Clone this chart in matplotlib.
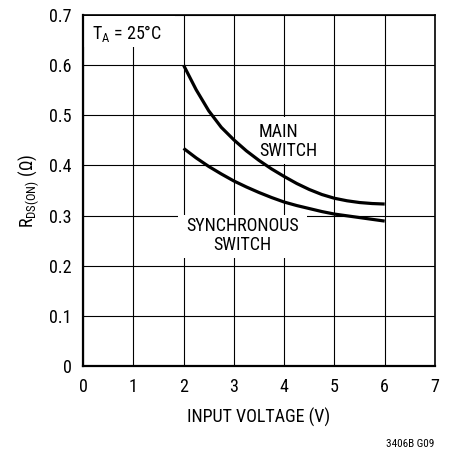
import matplotlib
matplotlib.use("Agg")
from matplotlib import pyplot as plt
from matplotlib import font_manager
from matplotlib.patches import Rectangle

# procura uma fonte estreita (tipo Helvetica Narrow)
fontes = font_manager.fontManager.ttflist
nomes = set(f.name for f in fontes)
estica = "normal"
if "Liberation Sans Narrow" in nomes:
    fonte = "Liberation Sans Narrow"
elif "Roboto Condensed" in nomes:
    fonte = "Roboto Condensed"
elif any(f.name == "DejaVu Sans" and "condensed" in str(f.stretch) for f in fontes):
    fonte = "DejaVu Sans"
    estica = "condensed"
else:
    fonte = "Roboto"
plt.rcParams["font.family"] = [fonte, "DejaVu Sans"]
plt.rcParams["font.stretch"] = estica
plt.rcParams["mathtext.fontset"] = "custom"
plt.rcParams["mathtext.rm"] = fonte
plt.rcParams["mathtext.it"] = fonte

# dados
tensao = [2.0, 2.25, 2.5, 2.75, 3.0, 3.25, 3.5, 3.75, 4.0, 4.25, 4.5, 4.75,
          5.0, 5.25, 5.5, 5.75, 6.0]
r_main = [0.600, 0.551, 0.509, 0.476, 0.451, 0.429, 0.410, 0.393, 0.378,
          0.364, 0.352, 0.342, 0.3345, 0.3295, 0.326, 0.324, 0.323]
r_sync = [0.434, 0.415, 0.398, 0.383, 0.369, 0.357, 0.346, 0.336, 0.327,
          0.320, 0.314, 0.308, 0.303, 0.2995, 0.296, 0.2925, 0.289]

xticks = [0, 1, 2, 3, 4, 5, 6, 7]
yticks = [0, 0.1, 0.2, 0.3, 0.4, 0.5, 0.6, 0.7]
ytick_labels = ["0", "0.1", "0.2", "0.3", "0.4", "0.5", "0.6", "0.7"]

fig = plt.figure(figsize=(4.49, 4.51), dpi=100)
ax = fig.add_axes([83 / 449, 1 - 366 / 451, 352 / 449, 351 / 451])

ax.plot(tensao, r_main, color="black", lw=2.3, zorder=3, solid_capstyle="butt",
        solid_joinstyle="round")
ax.plot(tensao, r_sync, color="black", lw=2.3, zorder=3, solid_capstyle="butt",
        solid_joinstyle="round")

ax.set_xlim(0, 7)
ax.set_ylim(0, 0.7)
ax.set_xticks(xticks)
ax.set_yticks(yticks)
ax.set_yticklabels(ytick_labels)
ax.tick_params(axis="both", length=0, labelsize=13)
ax.tick_params(axis="x", pad=9)
ax.tick_params(axis="y", pad=8)
ax.grid(True, color="black", lw=0.8)
ax.set_axisbelow(True)
for s in ["left", "bottom"]:
    ax.spines[s].set_linewidth(1.6)
for s in ["top", "right"]:
    ax.spines[s].set_linewidth(1.2)

# caixas brancas atras dos textos (escondem a grade)
ax.add_patch(Rectangle((0.02, 0.637), 1.8, 0.061, fc="white", ec="none", zorder=1))
ax.add_patch(Rectangle((3.3, 0.402), 1.66, 0.095, fc="white", ec="none", zorder=1))
ax.add_patch(Rectangle((1.88, 0.216), 2.57, 0.085, fc="white", ec="none", zorder=1))

ax.text(0.18, 0.664, r"T$_{\mathregular{A}}$ = 25°C", fontsize=13, va="center", ha="left", zorder=4)
ax.text(3.5, 0.448, "MAIN\nSWITCH", fontsize=13, va="center", ha="left", linespacing=1.05, zorder=4)
ax.text(3.17, 0.26, "SYNCHRONOUS\nSWITCH", fontsize=13, va="center", ha="center", linespacing=1.05, zorder=4)

ax.set_xlabel("INPUT VOLTAGE (V)", fontsize=13, labelpad=8)
ax.set_ylabel(r"R$_{\mathregular{DS(ON)}}$ ($\Omega$)", fontsize=13, labelpad=6)

fig.text(434 / 449, 1 - 444 / 451, "3406B G09", fontsize=8, ha="right", va="center")

fig.savefig("out.png", dpi=100)
